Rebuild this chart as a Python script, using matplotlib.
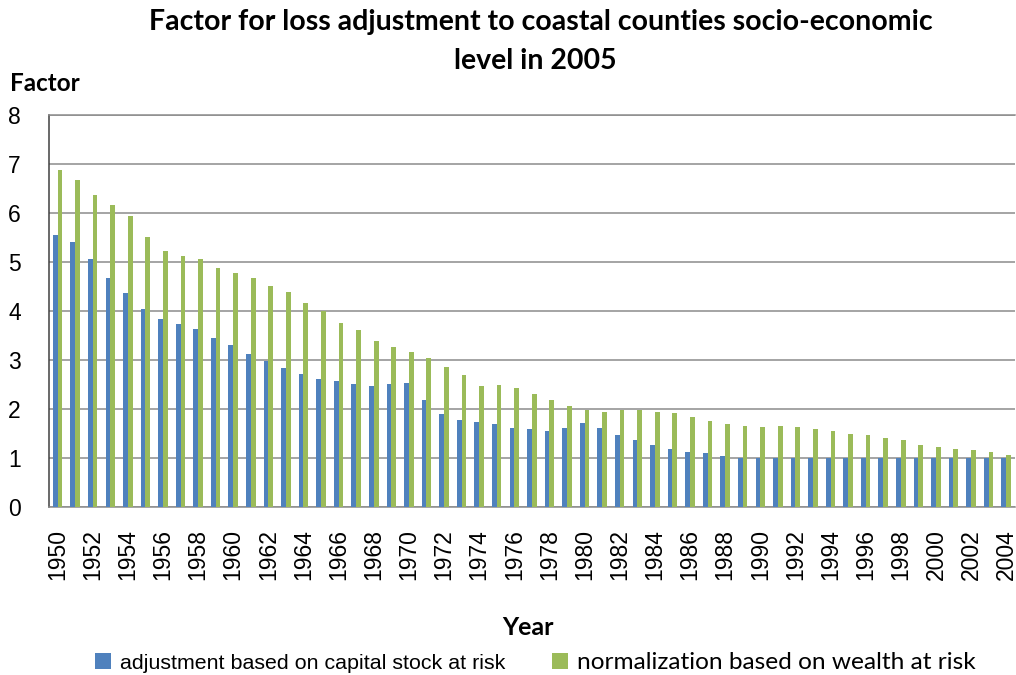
import numpy as np
import matplotlib.pyplot as plt
from matplotlib.patches import Patch

years = list(range(1950, 2005))

# adjustment based on capital stock at risk
capital_stock = [5.54, 5.41, 5.06, 4.67, 4.36, 4.04, 3.83, 3.73, 3.62, 3.44,
                 3.31, 3.12, 2.98, 2.84, 2.71, 2.60, 2.56, 2.50, 2.47, 2.50,
                 2.53, 2.19, 1.90, 1.77, 1.74, 1.69, 1.61, 1.58, 1.55, 1.61,
                 1.72, 1.61, 1.47, 1.37, 1.26, 1.19, 1.12, 1.09, 1.03, 1.00,
                 1.00, 1.00, 1.00, 1.00, 1.00, 1.00, 1.00, 1.00, 1.00, 1.00,
                 1.00, 1.00, 1.00, 1.00, 1.00]

# normalization based on wealth at risk
wealth = [6.87, 6.66, 6.37, 6.16, 5.93, 5.51, 5.22, 5.12, 5.06, 4.88,
          4.78, 4.67, 4.51, 4.38, 4.17, 4.00, 3.76, 3.61, 3.39, 3.26,
          3.16, 3.03, 2.86, 2.69, 2.47, 2.49, 2.42, 2.31, 2.18, 2.05,
          1.98, 1.94, 1.98, 1.98, 1.94, 1.91, 1.83, 1.75, 1.69, 1.66,
          1.64, 1.66, 1.64, 1.59, 1.54, 1.49, 1.46, 1.40, 1.36, 1.27,
          1.22, 1.19, 1.17, 1.12, 1.06]

series_names = ["adjustment based on capital stock at risk",
                "normalization based on wealth at risk"]
colors = ["#4F81BD", "#9BBB59"]
grid_col = "#8c8c8c"

plt.rcParams["font.family"] = ["Liberation Sans", "DejaVu Sans"]
bold_font = ["Lato", "DejaVu Sans"]

fig = plt.figure(figsize=(10.16, 6.75), dpi=100)
ax = fig.add_axes([0.048, 0.249, 0.951, 0.581])

x = np.arange(len(years))
w = 0.27
ax.bar(x - w / 2, capital_stock, width=w, color=colors[0], zorder=3)
ax.bar(x + w / 2, wealth, width=w, color=colors[1], zorder=3)

ax.set_xlim(-0.5, len(years) - 0.5)
ax.set_ylim(0, 8)
ax.set_yticks(range(0, 9))
ax.yaxis.grid(True, color=grid_col, linewidth=1.1, zorder=0)
ax.set_axisbelow(True)

ax.set_xticks(x[::2])
ax.set_xticklabels([str(y) for y in years[::2]], rotation=90, fontsize=16.5)
ax.tick_params(axis="x", length=0, pad=16)
ax.tick_params(axis="y", length=0, pad=20, labelsize=16.5)

ax.spines["right"].set_visible(False)
ax.spines["top"].set_color(grid_col)
ax.spines["top"].set_linewidth(1.1)
ax.spines["left"].set_color("#404040")
ax.spines["left"].set_linewidth(1.1)
ax.spines["bottom"].set_color(grid_col)
ax.spines["bottom"].set_linewidth(1.1)

fig.text(0.532, 0.967, "Factor for loss adjustment to coastal counties socio-economic",
         ha="center", va="center", fontsize=20.5, fontweight="bold", family=bold_font)
fig.text(0.527, 0.91, "level in 2005",
         ha="center", va="center", fontsize=20.5, fontweight="bold", family=bold_font)
fig.text(0.01, 0.877, "Factor", ha="left", va="center",
         fontsize=17.5, fontweight="bold", family=bold_font)
fig.text(0.52, 0.071, "Year", ha="center", va="center",
         fontsize=18, fontweight="bold", family=bold_font)

handles = [Patch(facecolor=c) for c in colors]
leg = fig.legend(handles, series_names, loc="center", bbox_to_anchor=(0.527, 0.019),
                 ncol=2, frameon=False, fontsize=15.4, handlelength=0.75, handleheight=0.75,
                 handletextpad=0.4, columnspacing=2.2)
leg.get_texts()[1].set_family(["Lato", "DejaVu Sans"])
leg.get_texts()[1].set_fontsize(17.6)

fig.savefig("out.png", dpi=100)
